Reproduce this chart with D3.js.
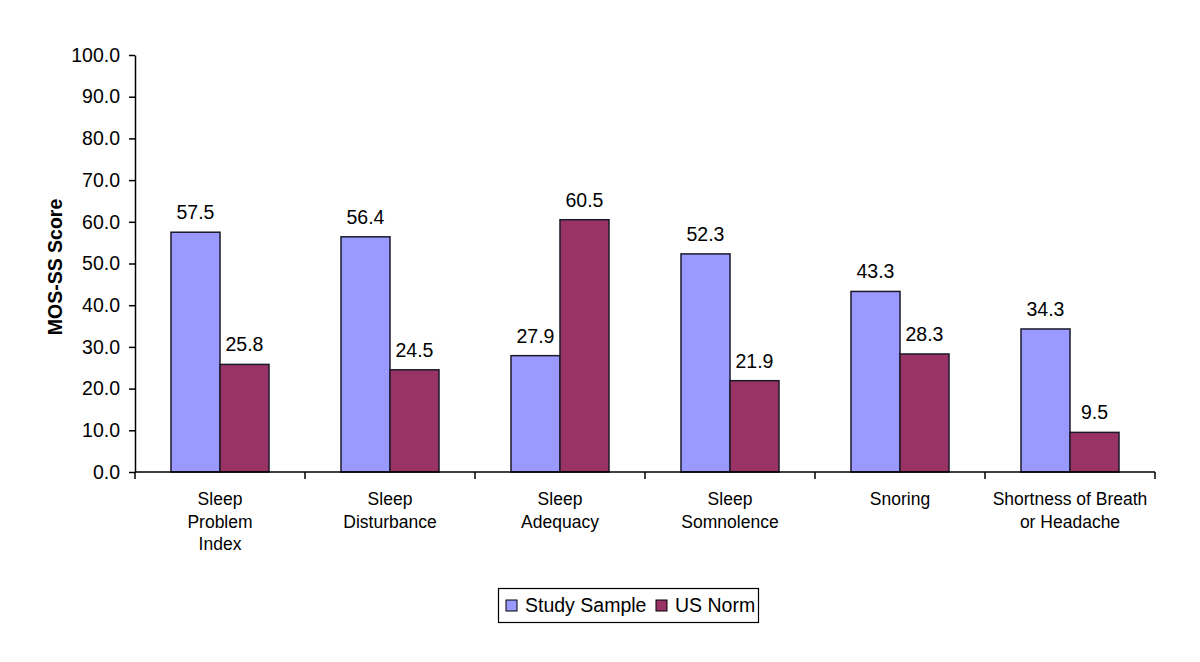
<!DOCTYPE html>
<html><head><meta charset="utf-8">
<script src="https://cdn.jsdelivr.net/npm/d3@7"></script>
<style>body{margin:0;background:#fff}text{font-family:Arial,"Liberation Sans",sans-serif}</style>
</head><body><svg id="c" width="1200" height="662"></svg>
<script>
const categories = [["Sleep","Problem","Index"],["Sleep","Disturbance"],["Sleep","Adequacy"],["Sleep","Somnolence"],["Snoring"],["Shortness of Breath","or Headache"]];
const seriesNames = ["Study Sample","US Norm"];
const studySample = [57.5,56.4,27.9,52.3,43.3,34.3];
const usNorm = [25.8,24.5,60.5,21.9,28.3,9.5];
const yTicks = [0,10,20,30,40,50,60,70,80,90,100];
const colors = ["#9999FF","#993366"];

(function(){
const svg = d3.select("#c");
const mL=135, mR=1155, mT=55, mB=472;
const x = d3.scaleBand().domain(d3.range(categories.length)).range([mL,mR]);
const y = d3.scaleLinear().domain([0,100]).range([mB,mT]);
const inner = d3.scaleBand().domain([0,1]).range([0,98]);
const series=[studySample,usNorm];

// y axis
const ya = svg.append("g").attr("transform",`translate(${mL},0)`)
  .call(d3.axisLeft(y).tickValues(yTicks).tickFormat(d3.format(".1f")).tickSize(6).tickSizeOuter(0));
ya.select(".domain").attr("stroke","#000").attr("stroke-width",1.5);
ya.selectAll(".tick line").attr("stroke","#000").attr("stroke-width",1.5);
ya.selectAll(".tick text").attr("font-size",19.5).attr("fill","#000").attr("x",-15).style("font-family","Arial, 'Liberation Sans', sans-serif");

// bars
series.forEach((s,si)=>{
  svg.append("g").selectAll("rect").data(s).join("rect")
    .attr("x",(d,i)=>x(i)+(x.bandwidth()-98)/2+inner(si))
    .attr("y",d=>y(d)).attr("width",inner.bandwidth()).attr("height",d=>mB-y(d))
    .attr("fill",colors[si]).attr("stroke","#1a1a2a").attr("stroke-width",1.5);
  svg.append("g").selectAll("text").data(s).join("text")
    .attr("x",(d,i)=>x(i)+(x.bandwidth()-98)/2+inner(si)+inner.bandwidth()/2)
    .attr("y",d=>y(d)-13).attr("text-anchor","middle").attr("font-size",19.5).attr("fill","#000")
    .text(d=>d.toFixed(1));
});

// x axis
const xa = svg.append("g").attr("transform",`translate(0,${mB})`);
xa.append("line").attr("x1",mL).attr("x2",mR).attr("stroke","#000").attr("stroke-width",1.5);
d3.range(categories.length+1).forEach(i=>{
  const xx = mL + i*x.step();
  xa.append("line").attr("x1",xx).attr("x2",xx).attr("y1",0).attr("y2",7).attr("stroke","#000").attr("stroke-width",1.5);
});
categories.forEach((lines,i)=>{
  const t = svg.append("text").attr("text-anchor","middle").attr("font-size",17.5).attr("fill","#000");
  lines.forEach((l,j)=>t.append("tspan").attr("x",x(i)+x.bandwidth()/2).attr("y",505+j*22.5).text(l));
});

// y title
svg.append("text").attr("transform","translate(62,267) rotate(-90)").attr("text-anchor","middle")
  .attr("font-size",19.5).attr("font-weight","bold").text("MOS-SS Score");

// legend
const lg = svg.append("g");
lg.append("rect").attr("x",498.5).attr("y",588.5).attr("width",260).attr("height",34).attr("fill","#fff").attr("stroke","#000").attr("stroke-width",1.2);
const lx=[506,656];
seriesNames.forEach((n,i)=>{
  lg.append("rect").attr("x",lx[i]).attr("y",600).attr("width",11).attr("height",11).attr("fill",colors[i]).attr("stroke","#000");
  lg.append("text").attr("x",lx[i]+19).attr("y",612).attr("font-size",19.5).text(n);
});
})();
</script></body></html>
